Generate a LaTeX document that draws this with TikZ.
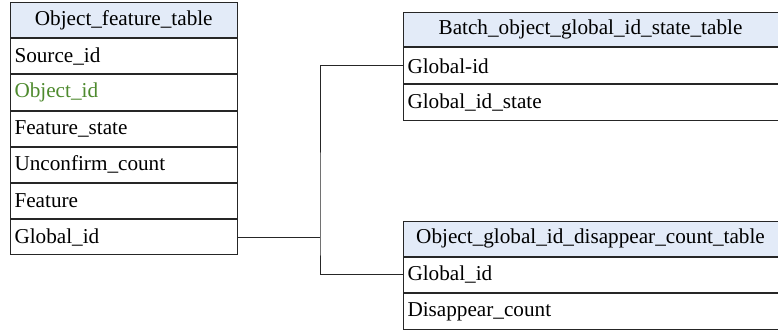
\documentclass[tikz,border=0pt]{standalone}
\usepackage{fontspec}
\setmainfont{Liberation Serif}
\definecolor{hdr}{HTML}{E3EBF8}
\definecolor{edge}{HTML}{262626}
\definecolor{grn}{HTML}{4E8A2E}
\tikzset{
  cell/.style={draw=edge, line width=1pt, anchor=north west, inner xsep=4.5pt, inner ysep=0pt,
    minimum height=#1, font=\fontsize{21.2}{22}\selectfont},
  cell/.default=35.2pt,
  hcell/.style={cell=#1, fill=hdr, align=center},
  hcell/.default=35.2pt,
  conn/.style={draw=edge, line width=1pt}
}
\begin{document}
\begin{tikzpicture}[x=1pt,y=1pt]
\useasboundingbox (0,0) rectangle (778,330);
% left table
\node[hcell, minimum width=227.5pt, text width=218.5pt] (lt) at (9.5,328) {Object\_feature\_table};
\node[cell, minimum width=227.5pt, text width=218.5pt, align=left] (l1) at (lt.south west) {Source\_id};
\node[cell, minimum width=227.5pt, text width=218.5pt, align=left, text=grn] (l2) at (l1.south west) {Object\_id};
\node[cell, minimum width=227.5pt, text width=218.5pt, align=left] (l3) at (l2.south west) {Feature\_state};
\node[cell, minimum width=227.5pt, text width=218.5pt, align=left] (l4) at (l3.south west) {Unconfirm\_count};
\node[cell, minimum width=227.5pt, text width=218.5pt, align=left] (l5) at (l4.south west) {Feature};
\node[cell, minimum width=227.5pt, text width=218.5pt, align=left] (l6) at (l5.south west) {Global\_id};
% top right table
\node[hcell=34.5pt, minimum width=375pt, text width=366pt] (bt) at (402.5,318) {Batch\_object\_global\_id\_state\_table};
\node[cell=35.5pt, minimum width=375pt, text width=366pt, align=left] (b1) at (bt.south west) {Global-id};
\node[cell=35.5pt, minimum width=375pt, text width=366pt, align=left] (b2) at (b1.south west) {Global\_id\_state};
% bottom right table
\node[hcell=34.5pt, minimum width=375pt, text width=366pt] (ot) at (402.5,109) {Object\_global\_id\_disappear\_count\_table};
\node[cell=35.5pt, minimum width=375pt, text width=366pt, align=left] (o1) at (ot.south west) {Global\_id};
\node[cell=36pt, minimum width=375pt, text width=366pt, align=left] (o2) at (o1.south west) {Disappear\_count};
% connectors
\coordinate (j) at (320,0);
\draw[conn] (l6.east) -- (l6.east -| j);
\draw[conn] (b1.west) -| (j |- l6.east) |- (o1.west);
\end{tikzpicture}
\end{document}
